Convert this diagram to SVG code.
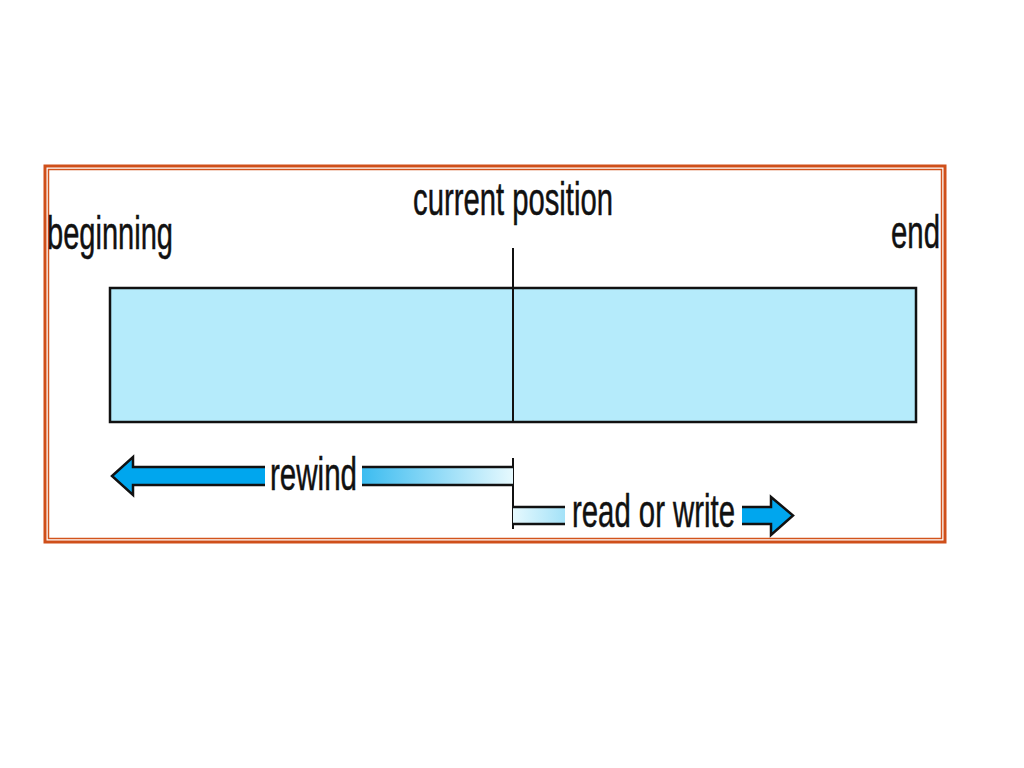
<svg xmlns="http://www.w3.org/2000/svg" width="1024" height="768" viewBox="0 0 1024 768">
<defs>
<style>
.t{font-family:"Liberation Sans",Arial,sans-serif;font-size:46px;fill:#111;stroke:#111;stroke-width:0.5}
.ol{fill:none;stroke:#111;stroke-width:2.5;stroke-linejoin:miter}
</style>
<linearGradient id="gRew" x1="0" y1="0" x2="1" y2="0">
<stop offset="0" stop-color="#3cbcf0"/>
<stop offset="1" stop-color="#e6f9fe"/>
</linearGradient>
<linearGradient id="gRw" x1="0" y1="0" x2="1" y2="0">
<stop offset="0" stop-color="#e6f9fe"/>
<stop offset="1" stop-color="#a4e2f8"/>
</linearGradient>
</defs>
<rect width="1024" height="768" fill="#fff"/>
<g id="frame">
<rect x="45" y="166" width="900" height="376" fill="none" stroke="#cf4f1a" stroke-width="3"/>
<rect x="48.5" y="169.5" width="893" height="369" fill="none" stroke="#d2541c" stroke-width="1.5"/>
</g>
<g id="tape">
<rect x="110" y="288" width="806" height="134" fill="#b5ebfb" stroke="#111" stroke-width="2.5"/>
</g>
<g id="labels">
<text class="t" x="47" y="249" textLength="126" lengthAdjust="spacingAndGlyphs">beginning</text>
<text class="t" x="413" y="215" textLength="200" lengthAdjust="spacingAndGlyphs">current position</text>
<text class="t" x="891" y="248" textLength="49" lengthAdjust="spacingAndGlyphs">end</text>
</g>
<g id="connectors">
<line x1="513" y1="248" x2="513" y2="422" stroke="#111" stroke-width="2"/>
<line x1="513" y1="458" x2="513" y2="529" stroke="#111" stroke-width="2"/>
</g>
<g id="rewind">
<polygon points="112,476 133,457 133,467 265,467 265,485 133,485 133,495" fill="#00a6ee"/>
<path class="ol" d="M265,467 H133 V457 L112,476 L133,495 V485 H265"/>
<rect x="362" y="467" width="151" height="18" fill="url(#gRew)"/>
<path class="ol" d="M362,467 H513 M362,485 H513"/>
<text class="t" x="270" y="490" textLength="87" lengthAdjust="spacingAndGlyphs">rewind</text>
</g>
<g id="readwrite">
<rect x="513" y="507" width="52" height="17" fill="url(#gRw)"/>
<path class="ol" d="M513,507 H565 M513,524 H565"/>
<polygon points="742,507 771,507 771,497 793,515.5 771,535 771,524 742,524" fill="#00a6ee"/>
<path class="ol" d="M742,507 H771 V497 L793,515.5 L771,535 V524 H742"/>
<text class="t" x="572" y="527" textLength="163" lengthAdjust="spacingAndGlyphs">read or write</text>
</g>
</svg>
